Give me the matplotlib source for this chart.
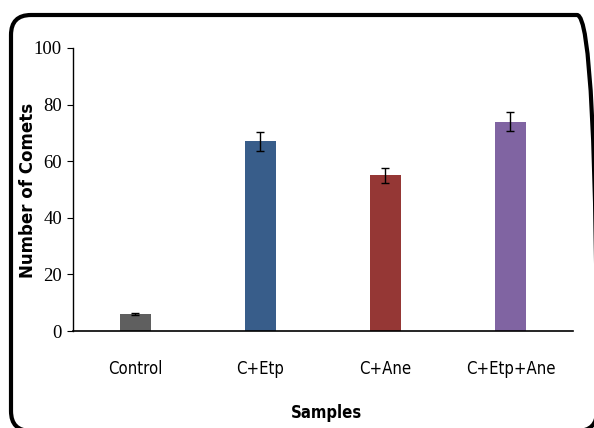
import matplotlib
matplotlib.use("Agg")
import matplotlib.pyplot as plt
from matplotlib.patches import FancyBboxPatch
from matplotlib.transforms import IdentityTransform

samples = ["Control", "C+Etp", "C+Ane", "C+Etp+Ane"]
comets = [6, 67, 55, 74]
errors = [0.4, 3.3, 2.6, 3.5]
colors = ["#5f5f5f", "#385d8a", "#953735", "#8064a2"]

fig = plt.figure(figsize=(5.94, 4.28), dpi=100)
ax = fig.add_axes([0.1229, 0.2266, 0.8417, 0.6613])

# rounded frame around the whole chart, in pixels
frame = FancyBboxPatch((11, -3), 586, 416, boxstyle="round,pad=0,rounding_size=20",
                       transform=IdentityTransform(), fill=False, lw=3, ec="black",
                       clip_on=False)
fig.patches.append(frame)

x = range(len(samples))
ax.bar(x, comets, width=0.25, color=colors, yerr=errors, capsize=3,
       error_kw=dict(ecolor="black", elinewidth=1, capthick=1))

ax.set_xlim(-0.5, 3.5)
ax.set_ylim(0, 100)
ax.set_yticks(range(0, 101, 20))
ax.set_xticks(list(x))
ax.set_xticklabels(samples, fontfamily="DejaVu Sans", fontstretch="condensed", fontsize=12)
ax.tick_params(axis="x", length=0, pad=21)
ax.tick_params(axis="y", length=4, direction="out", pad=4)
for lab in ax.get_yticklabels():
    lab.set_fontfamily("Liberation Serif")
    lab.set_fontsize(13.5)

for side in ["top", "right"]:
    ax.spines[side].set_visible(False)
ax.spines["left"].set_linewidth(1)
ax.spines["bottom"].set_linewidth(1.2)

fig.text(0.047, 0.555, "Number of Comets", rotation=90, ha="center", va="center",
         fontsize=12, fontweight="bold", fontfamily="DejaVu Sans")
fig.text(0.549, 0.035, "Samples", ha="center", va="center",
         fontsize=12, fontweight="bold", fontfamily="DejaVu Sans", fontstretch="condensed")

fig.savefig("out.png", dpi=100)
